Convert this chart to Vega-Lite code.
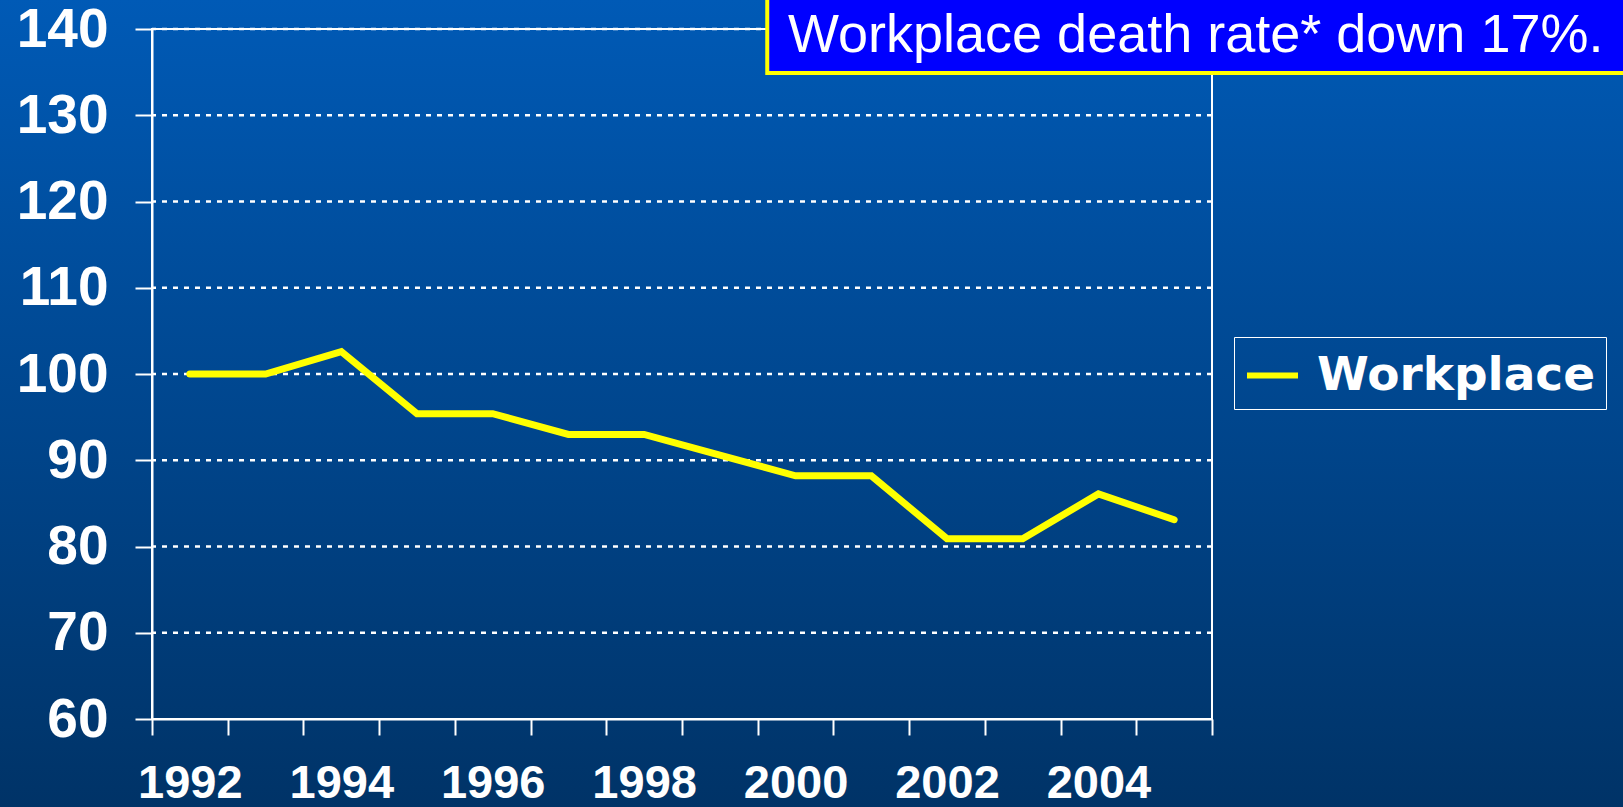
{
  "$schema": "https://vega.github.io/schema/vega-lite/v6.json",
  "width": 1060,
  "height": 690,
  "autosize": {"type": "none"},
  "padding": {"left": 152, "top": 29, "right": 411, "bottom": 88},
  "background": "#00457f",
  "config": {"view": {"stroke": null}},
  "datasets": {
    "main": [
      {"year": 1992, "value": 100},
      {"year": 1993, "value": 100},
      {"year": 1994, "value": 102.6},
      {"year": 1995, "value": 95.4},
      {"year": 1996, "value": 95.4},
      {"year": 1997, "value": 93.0},
      {"year": 1998, "value": 93.0},
      {"year": 1999, "value": 90.6},
      {"year": 2000, "value": 88.2},
      {"year": 2001, "value": 88.2},
      {"year": 2002, "value": 80.9},
      {"year": 2003, "value": 80.9},
      {"year": 2004, "value": 86.1},
      {"year": 2005, "value": 83.1}
    ],
    "grid": [
      {"v": 70}, {"v": 80}, {"v": 90}, {"v": 100}, {"v": 110}, {"v": 120}, {"v": 130}, {"v": 140}
    ],
    "note": [
      {"label": "Workplace death rate* down 17%."}
    ]
  },
  "layer": [
    {
      "data": {"values": [{}]},
      "mark": {
        "type": "rect",
        "fill": {
          "gradient": "linear",
          "x1": 0, "y1": 0, "x2": 0, "y2": 1,
          "stops": [
            {"offset": 0, "color": "#005ab6"},
            {"offset": 1, "color": "#003367"}
          ]
        }
      },
      "encoding": {
        "x": {
          "datum": 1989.4,
          "type": "quantitative",
          "title": null,
          "scale": {"domain": [1991.5, 2005.5], "nice": false, "zero": false},
          "axis": {
            "zindex": 2,
            "values": [1991.5, 1992.5, 1993.5, 1994.5, 1995.5, 1996.5, 1997.5, 1998.5, 1999.5, 2000.5, 2001.5, 2002.5, 2003.5, 2004.5, 2005.5],
            "labelExpr": "datum.value < 2005 && (datum.value + 0.5) % 2 == 0 ? '' + (datum.value + 0.5) : ''",
            "labelOffset": 37.857,
            "labelFlush": false,
            "labelOverlap": false,
            "labelBound": false,
            "labelFont": "Liberation Sans",
            "labelFontWeight": "bold",
            "labelFontSize": 47,
            "labelColor": "white",
            "labelPadding": 25,
            "tickSize": 16,
            "tickColor": "white",
            "tickWidth": 2,
            "domainColor": "white",
            "domainWidth": 2,
            "grid": false,
            "title": null
          }
        },
        "x2": {"datum": 2011},
        "y": {
          "datum": 143.4,
          "type": "quantitative",
          "title": null,
          "scale": {"domain": [60, 140], "nice": false, "zero": false},
          "axis": {
            "zindex": 2,
            "values": [60, 70, 80, 90, 100, 110, 120, 130, 140],
            "labelFlush": false,
            "labelOverlap": false,
            "labelBound": false,
            "labelFont": "Liberation Sans",
            "labelFontWeight": "bold",
            "labelFontSize": 55,
            "labelColor": "white",
            "labelPadding": 27,
            "tickSize": 17,
            "tickColor": "white",
            "tickWidth": 2,
            "domainColor": "white",
            "domainWidth": 2,
            "grid": false,
            "title": null
          }
        },
        "y2": {"datum": 49.75}
      }
    },
    {
      "data": {"name": "grid"},
      "mark": {"type": "rule", "color": "white", "strokeWidth": 2.5, "strokeDash": [5, 6]},
      "encoding": {
        "y": {"field": "v", "type": "quantitative", "title": null}
      }
    },
    {
      "data": {"values": [{}]},
      "mark": {"type": "rect", "filled": false, "stroke": "white", "strokeWidth": 2},
      "encoding": {
        "x": {"datum": 1991.5, "type": "quantitative", "title": null},
        "x2": {"datum": 2005.5},
        "y": {"datum": 60, "type": "quantitative", "title": null},
        "y2": {"datum": 140}
      }
    },
    {
      "data": {"name": "main"},
      "mark": {"type": "line", "strokeWidth": 7, "strokeCap": "round", "strokeJoin": "miter"},
      "encoding": {
        "x": {"field": "year", "type": "quantitative", "title": null},
        "y": {"field": "value", "type": "quantitative", "title": null},
        "color": {
          "datum": "Workplace",
          "scale": {"range": ["#ffff00"]},
          "legend": {
            "orient": "none",
            "legendX": 1082,
            "legendY": 308,
            "title": null,
            "symbolType": "stroke",
            "symbolStrokeWidth": 6,
            "symbolSize": 2601,
            "labelFont": "DejaVu Sans",
            "labelFontWeight": "bold",
            "labelFontSize": 47,
            "labelColor": "white",
            "labelLimit": 0,
            "labelOffset": 16,
            "strokeColor": "white",
            "padding": 10
          }
        }
      }
    },
    {
      "data": {"values": [{}]},
      "mark": {"type": "rect", "fill": "#0000ff", "stroke": "#ffff00", "strokeWidth": 4},
      "encoding": {
        "x": {"datum": 1999.626, "type": "quantitative", "title": null},
        "x2": {"datum": 2011.5},
        "y": {"datum": 134.9, "type": "quantitative", "title": null},
        "y2": {"datum": 144}
      }
    },
    {
      "data": {"name": "note"},
      "mark": {"type": "text", "align": "left", "baseline": "alphabetic", "font": "Liberation Sans", "fontSize": 54, "color": "white"},
      "encoding": {
        "x": {"datum": 1999.9, "type": "quantitative", "title": null},
        "y": {"datum": 137.37, "type": "quantitative", "title": null},
        "text": {"field": "label"}
      }
    }
  ]
}
